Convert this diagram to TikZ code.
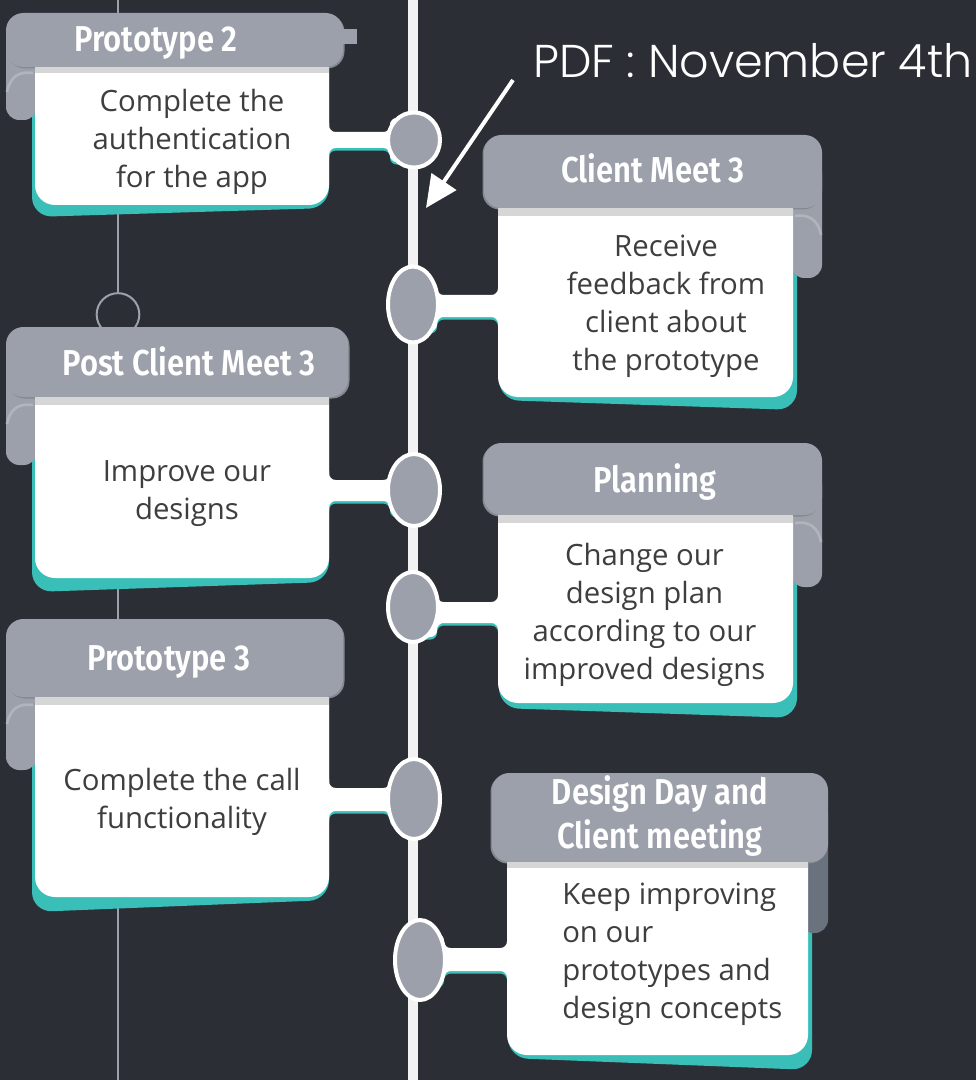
\documentclass[tikz,border=0pt]{standalone}
\usepackage{fontspec}
\setmainfont{Open Sans}
\newfontfamily\headfont[FakeStretch=0.86]{Fira Sans SemiBold}
\newfontfamily\pdffont{Poppins Light}
\usetikzlibrary{arrows.meta}
\usetikzlibrary{shapes.geometric}

\definecolor{bg}{HTML}{2C2E36}
\definecolor{headgray}{HTML}{9BA0AA}
\definecolor{shadegray}{HTML}{858991}
\definecolor{stripgray}{HTML}{D6D6D6}
\definecolor{curllight}{HTML}{B0B4BB}
\definecolor{curlslate}{HTML}{6A737D}
\definecolor{cardteal}{HTML}{3ABFB8}
\definecolor{textgray}{HTML}{3E3E3E}
\definecolor{linewhite}{HTML}{F2F2F2}
\definecolor{guidegray}{HTML}{9DA1A9}

\tikzset{
  guide/.style={draw=guidegray, line width=1.5pt},
  timeline/.style={draw=linewhite, line width=7.5pt},
  shadowbox/.style={fill=cardteal, rounded corners=15pt},
  bodybox/.style={fill=white, rounded corners=15pt},
  curlbox/.style={fill=headgray, rounded corners=10pt},
  headbox/.style={fill=headgray, rounded corners=13pt},
  headshade/.style={fill=shadegray, rounded corners=13pt},
  foldstrip/.style={fill=stripgray},
  curlhi/.style={draw=curllight, line width=2pt},
  headtext/.style={text=white, inner sep=0pt, font=\headfont\fontsize{27}{33}\selectfont},
  bodytext/.style={text=textgray, inner sep=0pt, align=center, font=\fontsize{22}{28.5}\selectfont},
  pdflabel/.style={text=white, inner sep=0pt, font=\pdffont\fontsize{34.5}{40}\selectfont},
  stopdot/.style={ellipse, fill=headgray, draw=white, line width=3pt, inner sep=0pt, minimum width=39pt},
  pdfarrow/.style={draw=white, line width=3pt, -{Triangle[length=24pt, width=22pt]}}
}

% tab from a card to its stop: edge x, top y, bottom y, stop x, side
\newcommand{\cardtab}[5]{%
  \foreach \dy/\col in {-1.9pt/cardteal, 0pt/white}
    \fill[\col, rounded corners=5pt, yshift=\dy]
      ({#1-10*(#5)},{#2-16}) -- (#1,{#2-16}) -- (#1,#2) -- ({#4-24*(#5)},#2)
      -- ({#4-24*(#5)},{#2-14}) -- (#4,{#2-14}) -- (#4,{#3+14})
      -- ({#4-24*(#5)},{#3+14}) -- ({#4-24*(#5)},#3) -- (#1,#3)
      -- (#1,{#3+16}) -- ({#1-10*(#5)},{#3+16}) -- cycle;
}

\begin{document}
\begin{tikzpicture}[x=0.75pt, y=-0.75pt]
\useasboundingbox (0,0) rectangle (976,1080);
\fill[bg] (0,0) rectangle (976,1080);
\draw[guide] (118,0) -- (118,1080);
\draw[guide, fill=bg] (118,314.5) circle [radius=16pt];
\draw[timeline] (413,0) -- (413,1080);

\node[pdflabel, anchor=base west] (pdf) at (533,78) {PDF : November 4th};
\coordinate (pdftail) at (513,80);
\coordinate (deadline) at (426,208);
\draw[pdfarrow] (pdftail) -- (deadline);

% Prototype 2
\fill[shadowbox] (32,40) -- (32,217) -- (329,208) -- (329,40) -- cycle;
\fill[curlbox] (6,40) rectangle (37,120);
\cardtab{329}{132}{148}{414}{1}
\fill[bodybox] (35,40) rectangle (329,205);
\fill[headshade] (7.5,14.5) rectangle (344.5,68.5);
\fill[headbox] (6,13) rectangle (343,67);
\fill[headgray] (338,29) rectangle (357,44);
\fill[foldstrip] (35,67) rectangle (329,73);
\draw[curlhi] (33,73) .. controls (20,71) and (10,76) .. (7,92);
\node[headtext, anchor=base] (h1) at (156,52) {Prototype 2};
\node[bodytext] (t1) at (192,142) {Complete the\\authentication\\for the app};

% Client Meet 3
\fill[shadowbox] (499,160) -- (499,400) -- (797,410) -- (797,160) -- cycle;
\fill[curlbox] (791,160) rectangle (822,278);
\cardtab{498}{295}{317}{413}{-1}
\fill[bodybox] (498,160) rectangle (793,397);
\fill[headshade] (482.5,136.5) rectangle (820.5,209.5);
\fill[headbox] (484,135) rectangle (822,208);
\fill[foldstrip] (498,208) rectangle (793,216);
\draw[curlhi] (795,216) .. controls (808,214) and (818,219) .. (821,235);
\node[headtext, anchor=base] (h2) at (653,183) {Client Meet 3};
\node[bodytext] (t2) at (666,306) {Receive\\feedback from\\client about\\the prototype};

% Post Client Meet 3
\fill[shadowbox] (32,350) -- (32,592) -- (329,582) -- (329,350) -- cycle;
\fill[curlbox] (6,350) rectangle (37,465);
\cardtab{329}{480}{501}{414}{1}
\fill[bodybox] (35,350) rectangle (329,578);
\fill[headshade] (7.5,328.5) rectangle (349.5,398.5);
\fill[headbox] (6,327) rectangle (348,397);
\fill[foldstrip] (35,397) rectangle (329,405);
\draw[curlhi] (33,405) .. controls (20,403) and (10,408) .. (7,424);
\node[headtext, anchor=base] (h3) at (189,375) {Post Client Meet 3};
\node[bodytext] (t3) at (187,493.5) {Improve our\\designs};

% Planning
\fill[shadowbox] (499,470) -- (499,708) -- (797,718) -- (797,470) -- cycle;
\fill[curlbox] (791,470) rectangle (822,587);
\cardtab{498}{602}{623}{413}{-1}
\fill[bodybox] (498,470) rectangle (793,703);
\fill[headshade] (482.5,444.5) rectangle (820.5,516.5);
\fill[headbox] (484,443) rectangle (822,515);
\fill[foldstrip] (498,515) rectangle (793,523);
\draw[curlhi] (795,523) .. controls (808,521) and (818,526) .. (821,542);
\node[headtext, anchor=base] (h4) at (655,492) {Planning};
\node[bodytext] (t4) at (644.5,614.5) {Change our\\design plan\\according to our\\improved designs};

% Prototype 3
\fill[shadowbox] (32,640) -- (32,912) -- (329,900) -- (329,640) -- cycle;
\fill[curlbox] (6,650) rectangle (37,770);
\cardtab{329}{788}{811}{414}{1}
\fill[bodybox] (35,640) rectangle (329,897);
\fill[headshade] (7.5,620.5) rectangle (344.5,698.5);
\fill[headbox] (6,619) rectangle (343,697);
\fill[foldstrip] (35,697) rectangle (329,705);
\draw[curlhi] (33,705) .. controls (20,703) and (10,708) .. (7,724);
\node[headtext, anchor=base] (h5) at (169,670) {Prototype 3};
\node[bodytext] (t5) at (182,802) {Complete the call\\functionality};

% Design Day and Client meeting
\fill[shadowbox] (508,800) -- (508,1058) -- (812,1070) -- (812,800) -- cycle;
\fill[curlbox, fill=curlslate] (800,800) rectangle (828,933);
\cardtab{507}{948}{971}{420}{-1}
\fill[bodybox] (507,800) rectangle (808,1055);
\fill[headshade] (490.5,774.5) rectangle (826.5,863.5);
\fill[headbox] (492,773) rectangle (828,862);
\fill[foldstrip] (507,862) rectangle (808,868);
\node[headtext, align=center] (h6) at (660,816) {Design Day and\\Client meeting};
\node[bodytext, align=left, anchor=west] (t6) at (562,954.5) {Keep improving\\on our\\prototypes and\\design concepts};

% stops on the timeline
\node[stopdot, minimum height=41.3pt] (s1) at (414,140) {};
\node[stopdot, minimum width=37.5pt, minimum height=57pt] (s2) at (413,304.5) {};
\node[stopdot, minimum height=54pt] (s3) at (414,490) {};
\node[stopdot, minimum width=37.5pt, minimum height=52.5pt] (s4) at (413,607) {};
\node[stopdot, minimum height=60pt] (s5) at (414,799) {};
\node[stopdot, minimum width=37.5pt, minimum height=60pt] (s6) at (420,960) {};
\end{tikzpicture}
\end{document}
